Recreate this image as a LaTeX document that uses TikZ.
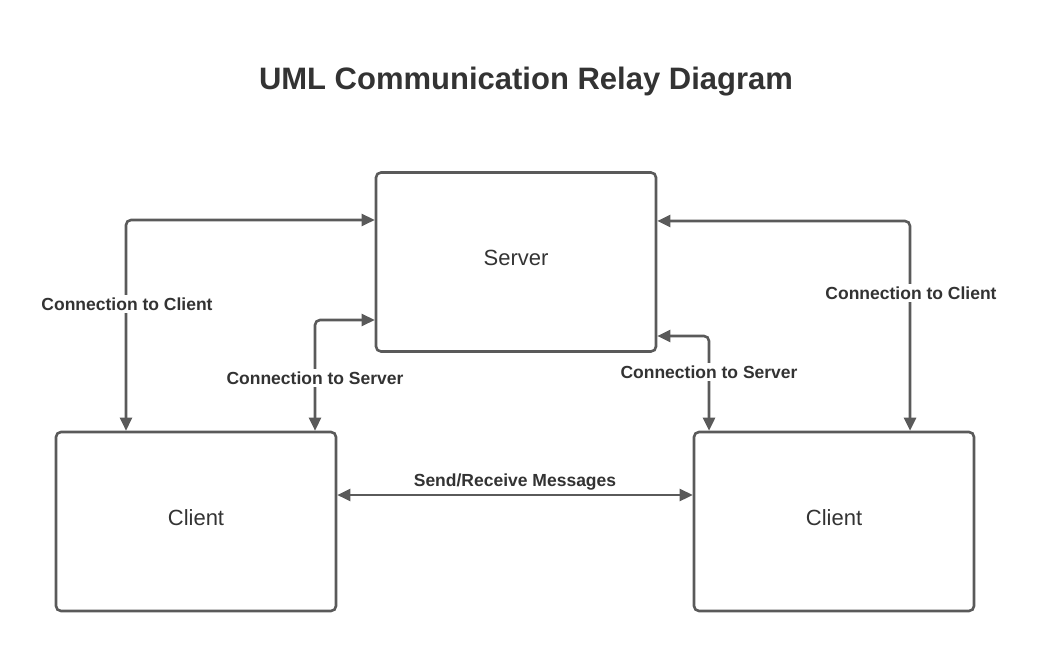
\documentclass[tikz,border=0pt]{standalone}
\usepackage{fontspec}
\setmainfont{Liberation Sans}
\usetikzlibrary{arrows.meta,positioning}
\definecolor{linegray}{HTML}{5A5A5A}
\definecolor{textgray}{HTML}{333333}
\tikzset{
	box/.style = {draw=linegray, line width=2.6pt, rectangle, rounded corners=5pt, minimum width=280pt, minimum height=179pt, text depth=8pt, text=textgray, font=\fontsize{22}{26}\selectfont},
	link/.style = {draw=linegray, line width=2.6pt, rounded corners=5pt, {Triangle[length=13pt,width=12pt]}-{Triangle[length=13pt,width=12pt]}},
	lbl/.style = {fill=white, inner sep=3pt, text=textgray, font=\fontsize{17.5}{20}\selectfont\bfseries},
	title/.style = {text=textgray, text depth=0pt, font=\fontsize{31}{36}\selectfont\bfseries}
}

\begin{document}
\begin{tikzpicture}[x=1pt,y=-1pt]
	\useasboundingbox (0,0) rectangle (1039,652);
	\node[title] (head) at (526,78) {UML Communication Relay Diagram};
	\node[box] (server) at (516,262) {Server};
	\node[box] (clientA) at (196,521.5) {Client};
	\node[box] (clientB) at (834,521.5) {Client};
	% server <-> clients
	\draw[link] ([yshift=42pt]server.west) -| ([xshift=-70pt]clientA.north);
	\draw[link] ([yshift=-58pt]server.west) -| ([xshift=119pt]clientA.north);
	\draw[link] ([yshift=-74pt]server.east) -| ([xshift=-125pt]clientB.north);
	\draw[link] ([yshift=41pt]server.east) -| ([xshift=76pt]clientB.north);
	% client <-> client
	\draw[link,rounded corners=0pt] ([yshift=26.5pt]clientA.east) -- ([yshift=26.5pt]clientB.west);
	\node[lbl] (toClientA) at (127,304) {Connection to Client};
	\node[lbl] (toServerA) at (315,378) {Connection to Server};
	\node[lbl] (toServerB) at (709,372) {Connection to Server};
	\node[lbl] (toClientB) at (911,293) {Connection to Client};
	\node[lbl] (msgs) at (515,482) {Send/Receive Messages};
\end{tikzpicture}
\end{document}
